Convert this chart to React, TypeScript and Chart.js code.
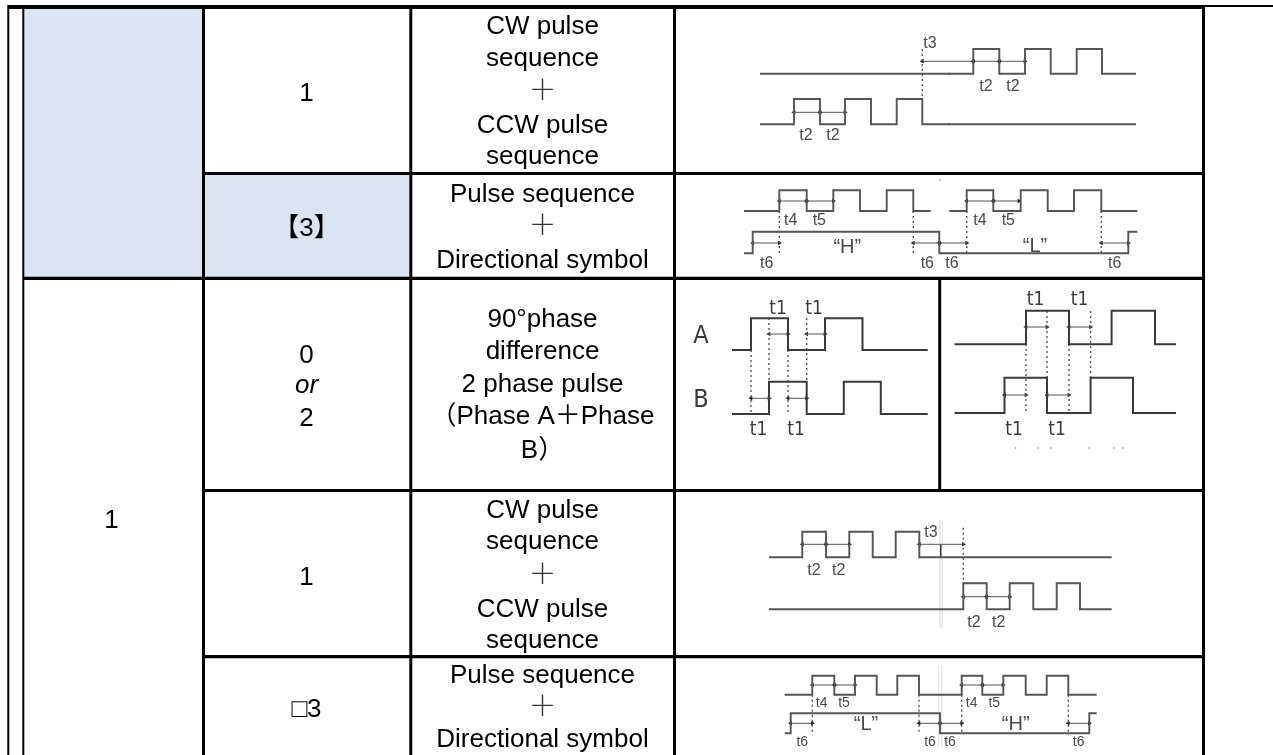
import React, { useEffect, useRef } from "react";
import { Chart, registerables } from "chart.js";

Chart.register(...registerables);

const W = 1273;
const H = 755;
const GAP = NaN;

// ---- table rules [from, to, at] ----
const verticalRules3 = [[203.5, 9, 755], [410.8, 9, 755], [674.5, 9, 755], [1203.5, 7, 755], [939.7, 278, 490]];
const verticalRules2 = [[8.3, 5, 755], [23.3, 5, 755]];
const horizontalRules3 = [[203, 1205, 173.5], [23, 1205, 278.3], [203, 1205, 490.5], [203, 1205, 656.7]];
const topRuleThick = [[8, 7], [1204, 7]];
const topRuleThin = [[1204, 6], [1273, 6]];
const shadedCellA = [[24, 9], [202, 9], [202, 277], [24, 277], [24, 9]];
const shadedCellB = [[202, 175], [409, 175], [409, 277], [202, 277], [202, 175]];

// ---- row 1: CW + CCW ----
const r1TopEdges = [760, 973.3, 999.3, 1025, 1050.7, 1076.7, 1102, 1136];
const r1TopLevels = [73.7, 49];
const r1BotEdges = [760, 794, 820, 845, 871, 896.7, 922.3, 1136];
const r1BotLevels = [124.3, 99];
const r1Dotted = [[922.3, 49, 99]];
const r1Arrows = [[922.3, 973.3, 61.3], [973.3, 999.3, 61.3], [999.3, 1025, 61.3], [794, 820, 112.3], [820, 845, 112.3]];

// ---- row 2: pulse + direction ----
const r2TopEdgesL = [744, 779.3, 806.7, 833.3, 860, 886.7, 913.3, 930.7];
const r2TopEdgesR = [949.3, 966.7, 993.3, 1020.7, 1047.7, 1074, 1101.3, 1137.3];
const r2TopLevels = [211, 190.3];
const r2DirEdges = [744, 752.7, 939.3, 1128.3, 1137.3];
const r2DirLevels = [253.3, 231.7];
const r2Dotted = [[779.3, 211, 253], [913.3, 211, 253], [966.7, 211, 253], [1101.3, 211, 253]];
const r2Arrows = [[779.3, 806.7, 201], [806.7, 833.3, 201], [966.7, 993.3, 201], [993.3, 1019, 201], [752.7, 779.3, 243], [913.3, 939.3, 243], [939.3, 966.7, 243], [1101.3, 1128.3, 243]];

// ---- row 3: 90 degree phase ----
const r3AEdges = [732, 751, 788, 825, 862.5, 927.7];
const r3ALevels = [350, 318.3];
const r3BEdges = [732, 769, 806.7, 843.8, 880.8, 927.7];
const r3BLevels = [414, 381.7];
const r3AEdges2 = [954.5, 1026, 1069, 1111.6, 1155, 1176];
const r3ALevels2 = [344.3, 310.7];
const r3BEdges2 = [954.5, 1004.5, 1047, 1090.6, 1133, 1176];
const r3BLevels2 = [413, 377.7];
const r3Dotted = [[751, 350, 414], [769, 318, 382], [788, 350, 414], [806.7, 318, 382], [1026, 344, 413], [1047, 311, 378], [1069, 344, 413], [1090.6, 311, 378]];
const r3Arrows = [[769, 788, 334], [806.7, 825, 334], [751, 769, 398.3], [788, 806.7, 398.3], [1026, 1047, 327], [1069, 1090.6, 327], [1004.5, 1026, 395], [1047, 1069, 395]];

// ---- row 4: CW + CCW ----
const r4TopEdges = [769, 802.3, 826, 849.3, 872.7, 895.7, 919.3, 1111.7];
const r4TopLevels = [557.3, 531.7];
const r4BotEdges = [769, 963.3, 986.7, 1009.7, 1033.3, 1056.7, 1080, 1111.7];
const r4BotLevels = [609.3, 583.3];
const r4Dotted = [[963.3, 527.7, 583.3]];
const r4Arrows = [[802.3, 826, 544.3], [826, 849.3, 544.3], [919.3, 963.3, 544.3], [963.3, 986.7, 596.7], [986.7, 1009.7, 596.7]];
const r4Faint = [[940, 520, 627.7], [942.3, 520, 627.7]];
const r4Tick = [[940.7, 544, 557.3]];

// ---- row 5: pulse + direction ----
const r5TopEdges = [784.7, 812.3, 834.3, 855, 876.7, 897.3, 919, 961.7, 982.3, 1003.3, 1025.7, 1046.7, 1068.3, 1096.7];
const r5TopLevels = [694.7, 675.7];
const r5DirEdges = [784.7, 790.7, 940, 1089.3, 1096.7];
const r5DirLevels = [733.3, 713.3];
const r5Dotted = [[812.3, 694.7, 733], [919, 694.7, 733], [961.7, 694.7, 733], [1068.3, 694.7, 733]];
const r5Arrows = [[812.3, 834.3, 685], [834.3, 855, 685], [961.7, 982.3, 685], [982.3, 1003, 685], [790.7, 812.3, 723.3], [919, 940, 723.3], [940, 961.7, 723.3], [1068.3, 1089.3, 723.3]];
const r5Faint = [[938.7, 665, 746.7], [941.7, 665, 746.7]];

// ---- stray scan specks in the source figures ----
const darkSpecks = [[949, 73.7], [949, 124.3]];
const paleSpecks = [[940, 180], [1015.6, 448], [1038, 448], [1051, 448], [1089, 448], [1114, 448], [1123, 448]];

// ---- table text ----
const FONT = '"Liberation Sans", "Noto Sans CJK SC", sans-serif';
const cellText = [
  ["CW pulse", 542.5, 34.3], ["sequence", 542.5, 65.7], ["CCW pulse", 542.5, 133.3], ["sequence", 542.5, 164],
  ["Pulse sequence", 542.5, 201.7], ["Directional symbol", 542.5, 268],
  ["90°phase", 542.5, 327.3], ["difference", 542.5, 359.3], ["2 phase pulse", 542.5, 391.7], ["（Phase A＋Phase", 542.5, 424.3], ["B）", 542.5, 457.7],
  ["CW pulse", 542.5, 517.7], ["sequence", 542.5, 549.3], ["CCW pulse", 542.5, 616.7], ["sequence", 542.5, 648.3],
  ["Pulse sequence", 542.5, 683.3], ["Directional symbol", 542.5, 746.7],
  ["1", 306.5, 100.5], ["【3】", 306.5, 235.5], ["0", 306.5, 363], ["2", 306.5, 426], ["1", 306.5, 584.5], ["□3", 306.5, 717], ["1", 111.5, 528],
];
const plusText = [["＋", 542.5, 100], ["＋", 542.5, 234.5], ["＋", 542.5, 583.5], ["＋", 542.5, 716]];
const italicText = [["or", 306.5, 393]];
const waveText = [
  ["t3", 930, 48], ["t2", 986, 91], ["t2", 1013, 91], ["t2", 806, 140], ["t2", 833, 140],
  ["t4", 790.7, 225], ["t5", 819.3, 225], ["t4", 980, 225], ["t5", 1008.3, 225],
  ["t6", 766.7, 268], ["t6", 927.3, 268], ["t6", 952, 268], ["t6", 1114.7, 268],
  ["t3", 931, 537], ["t2", 814, 575], ["t2", 838.7, 575], ["t2", 974, 627], ["t2", 998.7, 627],
];
const smallWaveText = [
  ["t4", 821.7, 707], ["t5", 844, 707], ["t4", 971.7, 707], ["t5", 994.3, 707],
  ["t6", 802.3, 746], ["t6", 930, 746], ["t6", 950, 746], ["t6", 1078.7, 746],
];
const levelText = [["“H”", 847.3, 253], ["“L”", 1035, 252], ["“L”", 866, 730], ["“H”", 1015.7, 730]];
const phaseText = [
  ["t1", 778, 314], ["t1", 814, 314], ["t1", 758.5, 435], ["t1", 796, 435],
  ["t1", 1035.5, 305], ["t1", 1079.5, 305], ["t1", 1014, 435], ["t1", 1057, 435],
];
const phaseNames = [["A", 701, 343], ["B", 701, 407]];

const pulse = (edges: number[], levels: number[]) => {
  const pts: { x: number; y: number }[] = [{ x: edges[0], y: levels[0] }];
  let idx = 0;
  for (let i = 1; i < edges.length - 1; i++) {
    pts.push({ x: edges[i], y: levels[idx] });
    idx = 1 - idx;
    pts.push({ x: edges[i], y: levels[idx] });
  }
  pts.push({ x: edges[edges.length - 1], y: levels[idx] });
  return pts;
};

const verticals = (list: number[][]) => list.flatMap(([x, a, b]) => [{ x, y: a }, { x, y: b }, { x: GAP, y: GAP }]);
const horizontals = (list: number[][]) => list.flatMap(([a, b, y]) => [{ x: a, y }, { x: b, y }, { x: GAP, y: GAP }]);
const xy = (list: number[][]) => list.map(([x, y]) => ({ x, y }));

const base = { pointRadius: 0, tension: 0, fill: false, clip: false as any, borderCapStyle: "butt", borderJoinStyle: "miter" };
const wave = (data: any[], color = "#555555", width = 1.9) => ({ ...base, data, borderColor: color, borderWidth: width });
const dotted = (list: number[][]) => ({ ...base, data: verticals(list), borderColor: "#555555", borderWidth: 1.4, borderDash: [2, 3] });
const arrows = (list: number[][]) => ({
  ...base,
  data: horizontals(list),
  borderColor: "#555555",
  borderWidth: 1,
  pointRadius: 2.6,
  pointStyle: "triangle",
  pointBackgroundColor: "#222222",
  pointBorderWidth: 0,
  pointRotation: (c: any) => (c.dataIndex % 3 === 0 ? 270 : 90),
});
const rule = (data: any[], width: number) => ({ ...base, data, borderColor: "#000000", borderWidth: width });
const shade = (list: number[][]) => ({ ...base, data: xy(list), borderColor: "#DBE5F1", backgroundColor: "#DBE5F1", borderWidth: 0, fill: "shape" });
const specks = (list: number[][], color: string) => ({ ...base, data: xy(list), showLine: false, pointRadius: 1, pointBackgroundColor: color, pointBorderWidth: 0 });

const labels = {
  id: "tableText",
  afterDatasetsDraw(chart: any) {
    const { ctx, scales } = chart;
    const put = (list: any[], font: string, color: string) => {
      ctx.save();
      ctx.font = font;
      ctx.fillStyle = color;
      ctx.textAlign = "center";
      ctx.textBaseline = "alphabetic";
      list.forEach(([t, x, y]) => ctx.fillText(t, scales.x.getPixelForValue(x), scales.y.getPixelForValue(y)));
      ctx.restore();
    };
    put(cellText, `26px ${FONT}`, "#000000");
    put(plusText, `200 28px "Noto Sans CJK SC", sans-serif`, "#333333");
    put(italicText, `italic 26px ${FONT}`, "#000000");
    put(waveText, `16px ${FONT}`, "#4a4a4a");
    put(smallWaveText, `14px ${FONT}`, "#4a4a4a");
    put(levelText, `20px ${FONT}`, "#4a4a4a");
    put(phaseText, `19px "DejaVu Sans Condensed", "DejaVu Sans", sans-serif`, "#3a3a3a");
    put(phaseNames, `25px "DejaVu Sans Condensed", "DejaVu Sans", sans-serif`, "#3a3a3a");
  },
};

export default function App() {
  const ref = useRef<HTMLCanvasElement>(null);
  useEffect(() => {
    const chart = new Chart(ref.current as HTMLCanvasElement, {
      type: "line",
      data: {
        datasets: [
          wave(pulse(r1TopEdges, r1TopLevels)),
          wave(pulse(r1BotEdges, r1BotLevels)),
          dotted(r1Dotted),
          arrows(r1Arrows),
          specks(darkSpecks, "#333333"),
          specks(paleSpecks, "#bbbbbb"),
          wave(pulse(r2TopEdgesL, r2TopLevels)),
          wave(pulse(r2TopEdgesR, r2TopLevels)),
          wave(pulse(r2DirEdges, r2DirLevels)),
          dotted(r2Dotted),
          arrows(r2Arrows),
          wave(pulse(r3AEdges, r3ALevels), "#3a3a3a", 2),
          wave(pulse(r3BEdges, r3BLevels), "#3a3a3a", 2),
          wave(pulse(r3AEdges2, r3ALevels2), "#3a3a3a", 2),
          wave(pulse(r3BEdges2, r3BLevels2), "#3a3a3a", 2),
          dotted(r3Dotted),
          arrows(r3Arrows),
          wave(pulse(r4TopEdges, r4TopLevels)),
          wave(pulse(r4BotEdges, r4BotLevels)),
          dotted(r4Dotted),
          arrows(r4Arrows),
          wave(verticals(r4Tick), "#333333", 1),
          wave(pulse(r5TopEdges, r5TopLevels)),
          wave(pulse(r5DirEdges, r5DirLevels)),
          dotted(r5Dotted),
          arrows(r5Arrows),
          wave(verticals(r4Faint), "#e6e6e6", 0.8),
          wave(verticals(r5Faint), "#e6e6e6", 0.8),
          rule(verticals(verticalRules3), 3),
          rule(verticals(verticalRules2), 2),
          rule(horizontals(horizontalRules3), 3.2),
          rule(xy(topRuleThick), 4),
          rule(xy(topRuleThin), 2),
          shade(shadedCellA),
          shade(shadedCellB),
        ] as any,
      },
      options: {
        animation: false,
        responsive: false,
        layout: { padding: 0, autoPadding: false },
        plugins: { legend: { display: false }, tooltip: { enabled: false }, title: { display: false } },
        scales: {
          x: { type: "linear", min: 0, max: W, display: false },
          y: { type: "linear", min: 0, max: H, reverse: true, display: false },
        },
      },
      plugins: [labels],
    } as any);
    return () => chart.destroy();
  }, []);
  return (
    <canvas
      ref={ref}
      width={W}
      height={H}
      style={{ position: "absolute", left: 0, top: 0, width: W, height: H, background: "#ffffff" }}
    />
  );
}
